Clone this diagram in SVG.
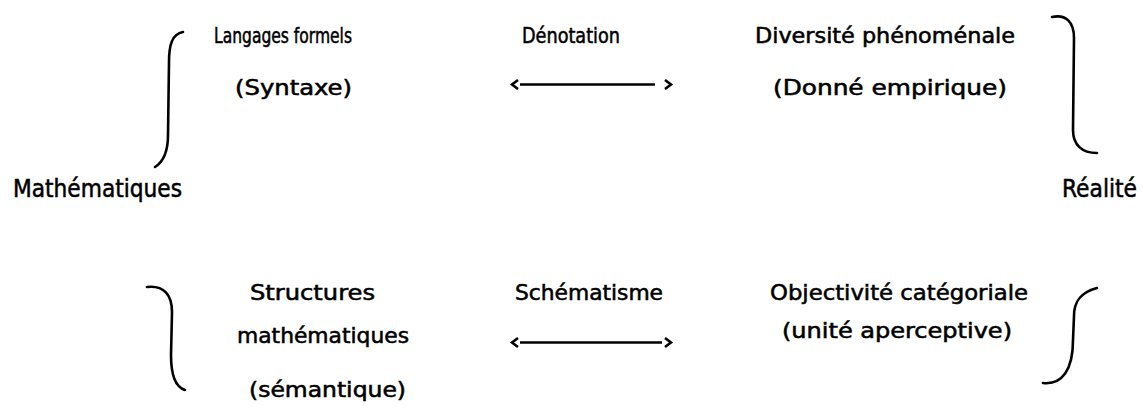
<svg xmlns="http://www.w3.org/2000/svg" width="1143" height="406" viewBox="0 0 1143 406">
<style>
text{font-family:"DejaVu Sans Condensed","Liberation Sans",sans-serif;font-size:21px;fill:#000;stroke:#000;stroke-width:0.5;}
text.side{font-size:24px;}
.br{fill:none;stroke:#000;stroke-width:2.6;stroke-linecap:round;}
.ln{fill:none;stroke:#000;stroke-width:2.6;}
.ch{fill:none;stroke:#000;stroke-width:2.6;stroke-linejoin:miter;}
</style>
<rect width="1143" height="406" fill="#fff"/>
<g id="braces">
<path class="br" d="M183,32 C172,34 169,45 169,62 L168,135 C168,152 163,162 155,167"/>
<path class="br" d="M1052,17 C1066,14 1074,22 1074,38 L1073,130 C1073,145 1082,153 1097,153"/>
<path class="br" d="M147,287 C164,285 172,295 172,312 L171,355 C171,375 175,387 185,390"/>
<path class="br" d="M1097,288 C1082,292 1074,300 1074,316 L1073,340 C1073,370 1062,385 1043,383"/>
</g>
<g id="node-mathematiques"><text class="side" x="13" y="197" textLength="169" lengthAdjust="spacingAndGlyphs">Mathématiques</text></g>
<g id="node-realite"><text class="side" x="1062" y="197" textLength="75" lengthAdjust="spacingAndGlyphs">Réalité</text></g>
<g id="node-langages">
<text x="214" y="43" textLength="138" lengthAdjust="spacingAndGlyphs">Langages formels</text>
<text x="235" y="95" textLength="117" lengthAdjust="spacingAndGlyphs">(Syntaxe)</text>
</g>
<g id="node-diversite">
<text x="755" y="43" textLength="260" lengthAdjust="spacingAndGlyphs">Diversité phénoménale</text>
<text x="773" y="95" textLength="234" lengthAdjust="spacingAndGlyphs">(Donné empirique)</text>
</g>
<g id="node-structures">
<text x="250" y="300" textLength="125" lengthAdjust="spacingAndGlyphs">Structures</text>
<text x="237" y="343" textLength="172" lengthAdjust="spacingAndGlyphs">mathématiques</text>
<text x="249" y="397" textLength="157" lengthAdjust="spacingAndGlyphs">(sémantique)</text>
</g>
<g id="node-objectivite">
<text x="770" y="300" textLength="258" lengthAdjust="spacingAndGlyphs">Objectivité catégoriale</text>
<text x="782" y="338" textLength="230" lengthAdjust="spacingAndGlyphs">(unité aperceptive)</text>
</g>
<g id="connectors">
<text x="522" y="43" textLength="98" lengthAdjust="spacingAndGlyphs">Dénotation</text>
<path class="ln" d="M520,84.5 H655"/>
<path class="ch" d="M518,80 L512,84.5 L518,89"/>
<path class="ch" d="M665,80 L671,84.5 L665,89"/>
<text x="515" y="300" textLength="148" lengthAdjust="spacingAndGlyphs">Schématisme</text>
<path class="ln" d="M520,342.5 H662"/>
<path class="ch" d="M518,338 L512,342.5 L518,347"/>
<path class="ch" d="M665,338 L671,342.5 L665,347"/>
</g>
</svg>
